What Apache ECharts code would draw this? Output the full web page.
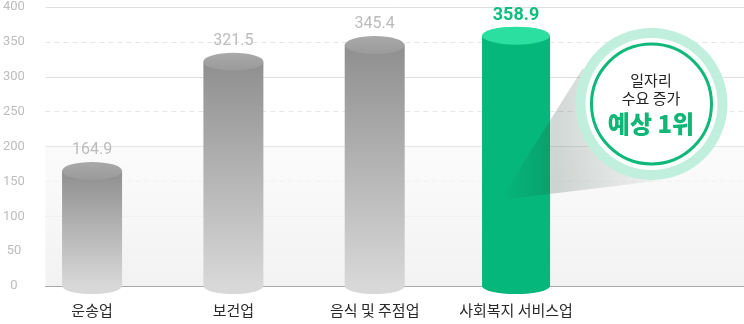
<!DOCTYPE html>
<html><head><meta charset="utf-8">
<script src="https://cdn.jsdelivr.net/npm/echarts@6/dist/echarts.min.js"></script>
<style>html,body{margin:0;padding:0;background:#fff}#c{width:744px;height:324px}</style>
</head><body><div id="c"></div>
<script>
var categories = ['운송업', '보건업', '음식 및 주점업', '사회복지 서비스업'];
var values = [164.9, 321.5, 345.4, 358.9];
var highlightIndex = 3;
var yTicks = [0, 50, 100, 150, 200, 250, 300, 350, 400];

var FONT = '"Noto Sans CJK KR", "Noto Sans", Roboto, sans-serif';
var grayBody = new echarts.graphic.LinearGradient(0, 0, 0, 1, [
  {offset: 0, color: '#8f8f8f'}, {offset: 1, color: '#d8d8d8'}]);
var grayTop = new echarts.graphic.LinearGradient(0, 0, 0, 1, [
  {offset: 0, color: '#a9a9a9'}, {offset: 1, color: '#9a9a9a'}]);

function item(v, i, part) {
  var hi = i === highlightIndex;
  var w = hi ? 68 : 60;
  var o = {value: v};
  if (part === 'body') {
    o.symbolSize = [w, '100%'];
    o.itemStyle = {color: hi ? '#05b77b' : grayBody};
  } else if (part === 'top') {
    o.symbolSize = [w, 18];
    o.itemStyle = {color: hi ? '#2adf9f' : grayTop};
    o.label = hi ? {color: '#0dbe7d', fontSize: 18, fontWeight: 'bold', distance: 2}
                 : {color: '#bcbcbc', fontSize: 16, distance: 4};
  } else {
    o.symbolSize = [w, 16];
    o.itemStyle = {color: hi ? '#05b77b' : '#d8d8d8'};
  }
  return o;
}

var chart = echarts.init(document.getElementById('c'), null, {renderer: 'canvas'});
chart.setOption({
  animation: false,
  grid: [
    {left: 44, right: 0, top: 7, bottom: 38},
    {left: 21.4, right: 157.3, top: 7, bottom: 38}
  ],
  xAxis: [
    {type: 'value', gridIndex: 0, min: 0, max: 1, axisLine: {show: true, lineStyle: {color: '#a8a8a8', width: 1}},
     axisTick: {show: false}, axisLabel: {show: false}, splitLine: {show: false}},
    {type: 'category', gridIndex: 1, data: categories, axisLine: {show: false}, axisTick: {show: false},
     axisLabel: {color: '#2a2a2a', fontSize: 15, fontFamily: FONT, margin: 17, interval: 0}}
  ],
  yAxis: [
    {type: 'value', gridIndex: 0, min: 0, max: 400, interval: 100, axisLabel: {show: false},
     axisLine: {show: false}, axisTick: {show: false},
     splitLine: {show: true, lineStyle: {color: '#dedede', width: 1}},
     minorTick: {show: false, splitNumber: 2},
     minorSplitLine: {show: true, lineStyle: {color: '#e6e6e6', type: [5, 4], width: 1}}},
    {type: 'value', gridIndex: 0, min: yTicks[0], max: yTicks[yTicks.length - 1], interval: yTicks[1] - yTicks[0],
     position: 'left', axisLine: {show: false}, axisTick: {show: false}, splitLine: {show: false},
     axisLabel: {color: '#bdbdbd', fontSize: 13, fontFamily: 'Roboto, sans-serif', align: 'center', margin: 31.5}},
    {type: 'value', gridIndex: 1, min: 0, max: 400, show: false}
  ],
  series: [
    {type: 'line', xAxisIndex: 0, yAxisIndex: 0, data: [], silent: true, z: 0,
     markArea: {silent: true, itemStyle: {color: new echarts.graphic.LinearGradient(0, 0, 0, 1, [
       {offset: 0, color: 'rgba(248,248,248,0.6)'}, {offset: 1, color: '#f2f2f2'}])},
       data: [[{yAxis: 200, xAxis: 0}, {yAxis: 0, xAxis: 1}]]}},
    {type: 'pictorialBar', xAxisIndex: 1, yAxisIndex: 2, symbol: 'rect', symbolPosition: 'start', z: 3,
     data: values.map(function (v, i) { return item(v, i, 'body'); })},
    {type: 'pictorialBar', xAxisIndex: 1, yAxisIndex: 2, symbol: 'circle', symbolPosition: 'start',
     symbolOffset: [0, '50%'], z: 2,
     data: values.map(function (v, i) { return item(v, i, 'bottom'); })},
    {type: 'pictorialBar', xAxisIndex: 1, yAxisIndex: 2, symbol: 'circle', symbolPosition: 'end',
     symbolOffset: [0, '-50%'], z: 4,
     label: {show: true, position: 'top', fontFamily: 'Roboto, sans-serif', formatter: '{c}'},
     data: values.map(function (v, i) { return item(v, i, 'top'); })}
  ],
  graphic: [
    {type: 'polygon', z: 50, shape: {points: [[500, 200], [583, 68], [657, 181]]},
     style: {fill: new echarts.graphic.LinearGradient(0, 0, 1, 0, [
       {offset: 0, color: 'rgba(30,60,45,0)'},
       {offset: 0.35, color: 'rgba(30,60,45,0.2)'},
       {offset: 1, color: 'rgba(30,60,45,0.04)'}])}},
    {type: 'circle', z: 60, shape: {cx: 651.5, cy: 104, r: 76}, style: {fill: '#c0efde'}},
    {type: 'circle', z: 61, shape: {cx: 651.5, cy: 104, r: 66}, style: {fill: '#ffffff'}},
    {type: 'circle', z: 62, shape: {cx: 651.5, cy: 104, r: 60}, style: {fill: '#ffffff', stroke: '#10b879', lineWidth: 3}},
    {type: 'text', z: 63, style: {text: '일자리', x: 651, y: 80, textAlign: 'center', textVerticalAlign: 'middle',
      fill: '#222', font: '15px ' + FONT}},
    {type: 'text', z: 63, style: {text: '수요 증가', x: 651, y: 98, textAlign: 'center', textVerticalAlign: 'middle',
      fill: '#222', font: '15px ' + FONT}},
    {type: 'text', z: 63, style: {text: '예상 1위', x: 651, y: 124, textAlign: 'center', textVerticalAlign: 'middle',
      fill: '#0fb676', font: '900 24px ' + FONT}}
  ]
});
</script></body></html>
